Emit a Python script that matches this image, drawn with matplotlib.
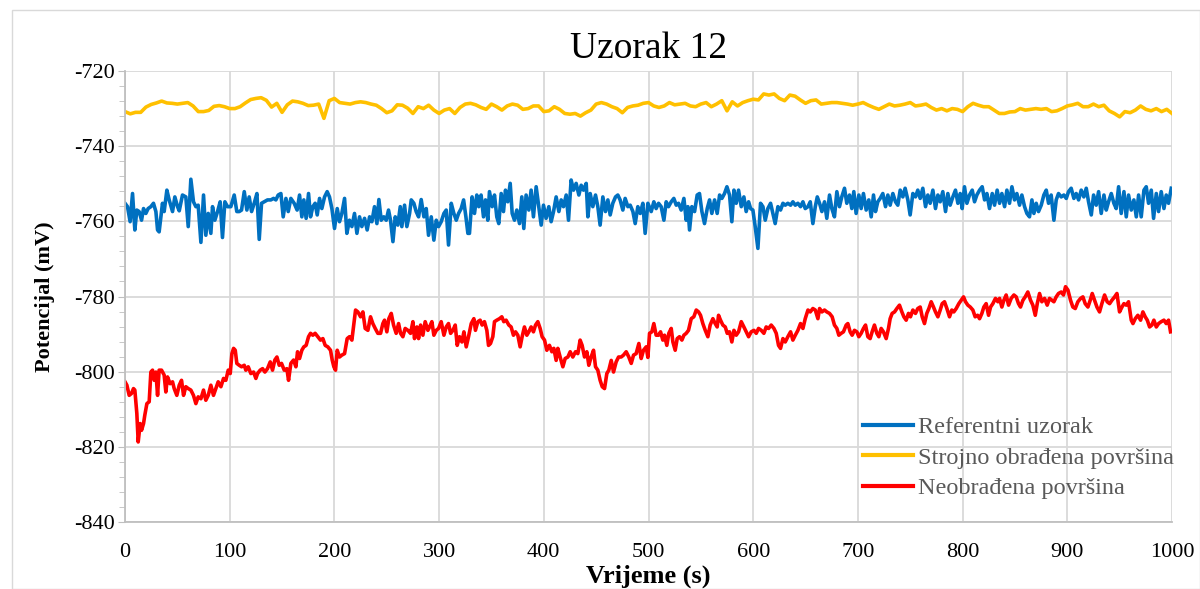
import numpy as np
import matplotlib
matplotlib.use("Agg")
import matplotlib.pyplot as plt
from matplotlib.ticker import MultipleLocator
from matplotlib.patches import Rectangle

plt.rcParams['font.family'] = ['Liberation Serif', 'DejaVu Serif']
plt.rcParams['axes.unicode_minus'] = False

# Strojno obradena povrsina - read every 5 s
yellow_t = list(range(0, 1001, 5))
yellow_v = [
    -730.8, -731.4, -731.0, -731.0, -729.6, -728.9, -728.5, -728.0, -728.5, -728.6,
    -728.8, -728.6, -728.4, -729.3, -730.8, -730.8, -730.5, -729.4, -729.2, -729.5,
    -730.0, -730.0, -729.5, -728.5, -727.6, -727.3, -727.1, -727.8, -729.6, -728.6,
    -731.0, -729.0, -728.0, -728.2, -728.6, -729.2, -729.1, -728.8, -732.6, -727.9,
    -727.3, -728.4, -728.6, -728.8, -728.4, -728.2, -728.4, -728.8, -729.1, -730.0,
    -731.1, -730.6, -729.0, -729.1, -729.9, -731.3, -729.5, -730.0, -729.1, -730.4,
    -731.3, -730.4, -730.0, -731.3, -729.7, -728.8, -728.6, -729.0, -729.7, -730.2,
    -728.8, -729.5, -730.4, -729.3, -728.8, -729.1, -730.2, -730.0, -729.3, -729.3,
    -730.8, -730.6, -729.5, -730.2, -731.3, -731.5, -731.3, -732.0, -731.1, -730.4,
    -728.8, -728.4, -728.8, -729.5, -730.0, -731.1, -729.7, -729.3, -729.1, -728.6,
    -728.4, -729.3, -729.7, -729.3, -728.4, -729.0, -728.8, -728.6, -729.3, -729.5,
    -728.8, -728.4, -729.5, -728.8, -727.9, -730.6, -728.2, -729.3, -728.4, -727.9,
    -727.5, -727.7, -726.1, -726.4, -726.1, -727.3, -727.9, -726.4, -726.7, -727.7,
    -728.6, -727.9, -727.7, -728.8, -728.6, -728.4, -728.4, -728.6, -728.8, -729.1,
    -728.8, -728.4, -729.1, -729.7, -730.2, -729.5, -728.8, -729.3, -729.1, -728.8,
    -728.4, -729.3, -729.1, -728.8, -729.7, -730.4, -730.0, -730.6, -730.0, -730.2,
    -730.8, -729.5, -728.6, -729.1, -729.5, -729.5, -730.4, -731.3, -731.3, -730.9,
    -730.8, -730.0, -730.4, -730.2, -730.0, -730.2, -730.0, -730.8, -730.6, -730.0,
    -729.3, -729.0, -728.6, -729.5, -729.5, -728.8, -729.5, -729.1, -730.6, -731.3,
    -732.2, -730.8, -731.1, -730.4, -729.3, -730.2, -730.6, -730.0, -730.8, -730.2,
    -731.3,
]

# Referentni uzorak
blue_t = [
    0, 2.4, 4.9, 7.2, 9.4, 11.3, 13.5, 15.8, 17.7, 19.9, 22.1, 24.7, 27.2, 29.5, 31.1,
    32.6, 35.8, 37.4, 40.0, 42.2, 45.4, 47.6, 50.2, 51.8, 54.9, 58.1, 60.4, 62.9, 65.4,
    67.7, 69.9, 72.5, 75.0, 77.2, 79.5, 82.0, 83.6, 85.8, 88.4, 90.9, 93.1, 95.4, 97.9,
    101.1, 104.3, 106.8, 109.1, 111.3, 113.9, 116.4, 118.6, 120.9, 123.4, 126.0, 128.2,
    130.4, 133.0, 136.1, 139.3, 141.9, 144.1, 146.3, 148.9, 151.1, 153.7, 155.9, 158.4,
    161.6, 164.4, 166.7, 168.9, 170.8, 173.0, 175.3, 177.2, 179.4, 181.6, 183.6, 185.8,
    188.0, 190.6, 193.1, 195.3, 197.6, 200.1, 202.7, 204.9, 207.1, 209.7, 211.9, 214.4,
    216.7, 219.2, 221.5, 224.0, 226.2, 228.8, 231.3, 233.6, 235.8, 238.3, 240.6, 242.5,
    244.7, 247.2, 249.5, 251.7, 253.6, 255.9, 258.1, 260.6, 262.9, 264.4, 267.0, 269.2,
    271.8, 273.4, 275.9, 278.1, 280.4, 282.9, 285.5, 287.7, 289.9, 292.5, 295.0, 297.3,
    299.5, 302.0, 304.6, 306.8, 309.0, 311.6, 314.1, 316.4, 318.6, 321.1, 323.4, 325.6,
    327.5, 329.0, 331.5, 333.8, 336.0, 337.9, 340.1, 342.4, 344.3, 346.5, 348.1, 350.7,
    352.9, 355.1, 357.0, 359.3, 361.5, 363.4, 365.6, 367.9, 369.8, 372.0, 374.2, 376.8,
    379.0, 380.9, 383.1, 385.7, 387.9, 390.1, 392.7, 395.2, 397.5, 399.7, 402.2, 404.8,
    407.0, 409.3, 411.8, 414.4, 416.6, 418.8, 421.4, 423.6, 426.1, 428.4, 430.9, 433.5,
    435.7, 437.9, 440.5, 442.1, 444.3, 446.8, 449.4, 451.6, 453.8, 456.4, 458.9, 461.2,
    463.4, 465.9, 468.5, 470.7, 472.9, 475.5, 477.7, 480.3, 482.5, 485.1, 487.3, 489.8,
    492.1, 494.6, 496.8, 499.4, 502.6, 505.1, 507.3, 509.6, 512.1, 514.7, 516.9, 519.1,
    521.7, 524.2, 526.5, 528.7, 531.2, 533.8, 536.0, 537.6, 539.2, 541.4, 544.0, 546.5,
    548.7, 551.0, 553.5, 556.1, 558.3, 560.5, 563.1, 565.6, 567.9, 570.1, 572.6, 574.9,
    577.4, 579.6, 581.6, 583.8, 586.0, 588.6, 591.1, 593.3, 595.6, 597.5, 599.7, 601.9,
    604.5, 607.0, 609.3, 611.5, 614.0, 616.6, 618.8, 621.0, 623.6, 626.1, 628.4, 630.6,
    633.1, 635.7, 637.9, 640.2, 642.7, 645.2, 647.5, 649.7, 652.3, 654.5, 657.0, 659.3,
    661.2, 663.4, 665.6, 668.1, 670.3, 672.9, 675.1, 677.6, 679.9, 682.4, 684.6, 687.2,
    689.4, 692.0, 694.2, 696.1, 698.3, 700.9, 703.1, 705.3, 707.9, 710.4, 712.7, 714.9,
    716.8, 719.0, 721.3, 723.8, 726.4, 728.6, 730.8, 733.4, 735.9, 738.1, 740.4, 742.9,
    745.1, 747.7, 749.9, 752.5, 755.0, 757.2, 759.5, 762.0, 764.6, 766.8, 769.0, 771.6,
    774.1, 776.4, 778.6, 781.1, 783.7, 785.9, 788.1, 790.7, 793.2, 795.5, 797.7, 799.6,
    801.8, 804.1, 806.6, 809.2, 811.4, 813.6, 816.2, 818.7, 821.0, 823.2, 825.7, 828.3,
    830.5, 833.0, 835.3, 837.5, 840.1, 842.3, 844.8, 847.1, 849.6, 851.8, 854.4, 856.6,
    859.2, 861.4, 863.9, 866.2, 868.1, 870.3, 872.5, 875.1, 877.6, 879.9, 882.1, 884.6,
    887.2, 889.4, 891.6, 894.2, 896.7, 899.0, 901.2, 903.7, 906.3, 908.5, 910.8, 913.3,
    915.8, 918.1, 920.3, 922.9, 925.1, 927.6, 929.9, 932.4, 935.0, 937.2, 939.4, 942.0,
    944.5, 946.7, 949.0, 951.5, 954.1, 956.3, 958.5, 961.1, 963.6, 965.9, 968.1, 970.6,
    973.2, 975.4, 977.6, 980.2, 982.4, 985.0, 987.2, 989.7, 992.3, 994.5, 996.7, 999.3,
]
blue_v = [
    -755.2, -756.1, -760.1, -752.6, -762.3, -757.0, -757.4, -759.7, -756.6, -757.9, -756.6, -756.1, -755.2, -757.4, -762.3,
    -762.8, -755.2, -757.4, -751.7, -754.3, -757.4, -753.5, -756.1, -757.2, -753.0, -753.5, -761.4, -748.8, -754.8,
    -756.1, -755.7, -765.6, -753.0, -763.7, -757.9, -763.2, -756.1, -759.7, -757.4, -754.8, -764.3, -754.8, -756.1,
    -756.1, -753.0, -757.4, -757.4, -757.0, -752.1, -757.0, -753.5, -757.4, -755.2, -752.6, -764.8,
    -755.2, -754.8, -754.3, -754.3, -753.9, -754.3, -753.0, -752.6, -758.8, -753.9, -757.4, -753.9,
    -755.2, -757.0, -753.0, -758.8, -754.3, -759.2, -752.6, -758.8, -756.1, -755.2, -758.3, -753.9,
    -756.6, -753.5, -752.1, -753.5, -756.6, -761.9, -756.6, -760.1, -757.9, -753.9, -763.2, -759.7,
    -761.4, -757.9, -763.2, -758.8, -761.4, -759.2, -762.3, -758.8, -760.1, -756.1, -760.6, -754.2,
    -759.7, -758.8, -759.7, -757.0, -759.7, -765.4, -758.8, -761.0, -756.1, -761.4, -755.7, -761.4,
    -757.9, -754.3, -755.2, -757.4, -758.8, -754.2, -758.8, -756.6, -763.7, -758.8, -765.0, -759.7,
    -761.4, -760.1, -757.9, -757.0, -766.3, -755.2, -757.9, -759.7, -757.9, -756.6, -754.3, -758.8,
    -763.2, -763.2, -753.5, -757.9, -753.0, -756.1, -753.0, -758.8, -754.3, -759.7, -752.1, -756.1,
    -753.0, -758.8, -760.6, -752.6, -757.4, -751.7, -754.8, -749.9, -757.9, -759.7, -757.0, -760.6,
    -753.5, -761.9, -753.0, -757.0, -751.7, -758.8, -750.8, -756.1, -761.0, -755.7, -759.2, -756.1,
    -760.1, -757.4, -753.5, -757.4, -754.3, -756.1, -753.0, -759.7, -749.0, -751.7, -749.9, -753.0,
    -750.4, -751.7, -749.9, -758.8, -752.6, -756.1, -753.0, -756.1, -761.0, -753.5, -757.4, -754.3,
    -758.3, -755.2, -753.5, -753.0, -754.3, -757.0, -753.9, -756.1, -755.7, -757.4, -760.6, -756.1,
    -757.9, -755.2, -763.2, -755.2, -757.4, -754.8, -756.6, -755.2, -756.1, -759.7, -754.8, -756.1,
    -754.8, -753.9, -755.7, -755.2, -757.0, -753.9, -759.7, -756.1, -762.3, -756.1, -757.4, -753.0,
    -752.6, -757.4, -760.6, -756.6, -754.3, -757.9, -754.3, -757.9, -753.0, -753.9, -752.6, -750.8,
    -753.0, -760.1, -751.7, -755.2, -751.7, -756.1, -753.5, -757.4, -754.8, -756.6, -757.0, -761.4,
    -767.2, -755.2, -756.1, -759.7, -756.6, -755.2, -757.9, -760.6, -756.1, -757.0, -755.2, -755.7,
    -755.2, -755.7, -754.8, -755.7, -755.2, -756.1, -754.8, -756.6, -756.1, -754.8, -760.6, -756.1,
    -753.5, -755.2, -757.4, -754.8, -759.2, -753.0, -756.6, -758.8, -752.1, -756.1, -753.5, -751.2,
    -755.2, -753.0, -756.6, -752.1, -757.9, -753.0, -756.6, -752.6, -757.0, -754.3, -758.8, -753.0,
    -757.4, -754.8, -753.9, -752.6, -756.1, -753.0, -755.7, -752.6, -754.8, -755.7, -751.7, -753.5,
    -751.2, -754.3, -758.3, -752.6, -753.5, -751.7, -753.9, -751.2, -756.1, -753.0, -755.2, -751.7,
    -756.6, -753.0, -754.8, -752.1, -757.4, -752.6, -755.7, -753.5, -751.7, -755.2, -752.6, -756.6,
    -750.8, -755.2, -753.0, -751.7, -754.8, -753.0, -751.7, -750.8, -754.3, -752.6, -756.6, -752.6,
    -755.7, -751.7, -755.2, -752.6, -756.1, -751.7, -755.2, -750.8, -754.3, -752.6, -755.7, -753.0,
    -756.1, -757.9, -758.8, -754.3, -757.9, -755.2, -757.4, -755.7, -753.0, -751.7, -755.2, -753.0,
    -759.7, -754.3, -752.6, -753.5, -753.0, -753.9, -752.1, -751.2, -753.9, -752.6, -754.3, -751.7,
    -753.5, -751.2, -754.8, -758.3, -753.0, -755.7, -752.1, -757.9, -753.0, -757.0, -754.8, -752.6,
    -755.2, -756.6, -750.8, -757.9, -752.1, -758.8, -753.0, -757.0, -754.3, -758.8, -753.0, -758.8,
    -751.7, -750.8, -755.2, -751.7, -759.2, -752.6, -757.4, -752.1, -756.6, -753.0, -755.2, -751.2,
]

# Neobradena povrsina
red_t = [
    0, 1.8, 4.0, 6.2, 8.1, 9.4, 11.3, 12.6, 14.5, 15.8, 17.7, 18.9, 20.9, 23.1, 24.7,
    26.3, 27.9, 29.5, 31.1, 32.6, 34.9, 37.4, 39.0, 40.6, 43.1, 45.4, 47.0, 49.5, 51.8,
    54.0, 55.9, 58.1, 60.4, 62.9, 65.4, 67.7, 69.9, 72.5, 75.0, 77.2, 79.5, 82.0, 84.5,
    86.8, 89.0, 91.6, 94.1, 96.3, 98.6, 100.5, 102.1, 103.7, 105.3, 106.8, 109.1, 111.3,
    113.9, 115.4, 117.7, 120.2, 122.8, 125.0, 126.6, 129.1, 131.4, 133.6, 136.1, 138.7,
    140.9, 143.1, 145.1, 147.3, 149.5, 152.1, 154.6, 156.2, 158.4, 161.0, 163.2, 164.8,
    166.7, 168.9, 170.8, 173.0, 175.3, 177.2, 179.4, 181.6, 184.2, 186.7, 189.0, 191.2,
    193.7, 196.3, 197.9, 199.5, 201.1, 202.7, 204.9, 207.1, 209.7, 212.2, 214.4, 216.7,
    218.6, 220.2, 222.4, 225.0, 227.2, 229.4, 232.0, 234.5, 236.7, 239.0, 241.5, 244.1,
    246.3, 247.9, 250.1, 252.0, 254.3, 256.5, 259.0, 261.3, 263.2, 265.4, 267.6, 270.2,
    272.7, 275.0, 276.5, 278.8, 280.4, 282.3, 284.5, 286.7, 289.3, 290.9, 293.1, 295.0,
    297.3, 299.5, 302.0, 304.6, 306.8, 309.0, 311.0, 313.2, 315.4, 317.3, 319.5, 321.8,
    323.7, 325.9, 328.1, 330.7, 333.2, 334.7, 337.0, 339.2, 341.1, 343.3, 345.6, 347.2,
    349.1, 351.3, 352.9, 355.1, 357.7, 359.9, 361.8, 364.0, 366.6, 368.8, 371.0, 373.0,
    375.2, 377.4, 379.3, 381.5, 383.8, 385.7, 387.9, 390.1, 392.1, 394.3, 396.5, 398.4,
    400.7, 402.9, 405.4, 407.7, 409.6, 411.8, 413.4, 415.6, 418.2, 420.4, 423.0, 425.2,
    427.7, 430.3, 432.5, 434.7, 436.6, 438.9, 441.1, 443.0, 445.2, 447.5, 449.4, 451.6,
    453.8, 455.8, 458.0, 460.2, 462.1, 464.4, 466.6, 469.1, 471.4, 473.9, 476.1, 478.7,
    481.2, 483.5, 485.7, 488.2, 490.8, 493.0, 495.2, 497.8, 499.4, 501.0, 503.2, 505.1,
    507.3, 509.6, 511.5, 513.7, 515.3, 517.5, 519.4, 521.7, 523.3, 525.5, 527.4, 529.6,
    531.9, 533.8, 536.0, 538.2, 540.8, 543.3, 545.6, 547.8, 549.7, 551.9, 554.2, 556.7,
    558.9, 561.5, 563.7, 565.6, 566.9, 568.8, 571.0, 573.3, 575.2, 577.4, 579.6, 581.6,
    583.8, 586.0, 588.6, 591.1, 593.3, 595.6, 598.1, 600.7, 602.9, 605.1, 607.7, 610.2,
    612.4, 614.7, 617.2, 619.8, 622.0, 624.2, 626.1, 628.4, 630.6, 633.1, 635.7, 637.9,
    640.2, 642.7, 645.2, 647.5, 649.7, 652.3, 654.5, 657.0, 659.3, 661.8, 663.4, 665.6,
    668.1, 670.3, 672.9, 675.4, 677.6, 679.9, 681.8, 684.0, 686.2, 688.8, 690.4, 692.6,
    694.5, 696.7, 699.0, 700.9, 703.1, 705.3, 707.3, 709.5, 711.7, 713.6, 715.8, 718.1,
    720.0, 722.2, 724.4, 727.0, 729.2, 730.8, 732.7, 735.0, 737.2, 739.7, 742.0, 743.9,
    746.1, 748.3, 750.2, 752.5, 755.0, 757.2, 759.5, 761.4, 763.6, 765.8, 767.8, 770.0,
    772.2, 774.1, 776.4, 778.6, 780.5, 782.7, 785.0, 787.5, 789.7, 791.6, 793.9, 796.4,
    798.6, 800.9, 802.8, 805.0, 807.3, 809.8, 812.0, 814.3, 816.2, 818.4, 820.3, 822.5,
    824.8, 826.7, 828.9, 831.4, 833.7, 835.3, 837.5, 839.4, 841.6, 843.9, 846.4, 849.0,
    851.2, 853.4, 855.3, 857.6, 859.8, 862.3, 864.9, 867.1, 869.4, 871.3, 873.5, 875.7,
    878.3, 880.8, 883.0, 885.3, 887.2, 889.4, 891.6, 894.2, 896.4, 898.3, 900.6, 903.1,
    905.3, 907.6, 910.1, 912.7, 914.9, 917.1, 919.7, 921.9, 923.8, 926.0, 928.3, 930.8,
    933.0, 935.6, 938.1, 940.4, 942.6, 945.2, 947.4, 949.9, 952.2, 954.1, 956.3, 958.5,
    961.1, 962.7, 964.9, 967.4, 970.0, 972.2, 974.4, 976.4, 978.6, 980.8, 982.7, 985.0,
    987.2, 989.7, 992.3, 994.5, 996.7, 998.6,
]
red_v = [
    -802.7, -803.6, -806.3, -805.8, -804.5, -804.9, -811.1, -818.7, -813.8, -815.6, -813.8, -811.6, -808.5, -808.0, -800.1,
    -799.6, -802.3, -800.1, -806.3, -799.6, -799.6, -800.9, -805.4, -801.4, -803.2, -802.7, -804.5, -806.3, -803.6,
    -802.3, -806.3, -804.0, -804.5, -804.9, -806.3, -808.5, -806.7, -807.2, -804.9, -807.6, -806.3, -803.6, -806.3,
    -804.5, -802.7, -804.0, -801.8, -802.3, -799.6, -800.5, -795.2, -793.8, -794.3, -797.8, -798.3, -798.7,
    -798.3, -799.6, -798.7, -800.5, -800.1, -801.8, -800.5, -799.6, -799.2, -800.1, -799.2, -797.4,
    -799.6, -796.9, -796.1, -798.3, -797.8, -799.6, -799.2, -802.3, -797.8, -796.9, -798.7, -794.7,
    -796.5, -794.3, -793.4, -793.0, -790.7, -789.8, -790.3, -789.8, -790.7, -791.6, -791.2, -793.0,
    -793.4, -794.3, -796.9, -798.7, -799.6, -794.3, -796.1, -795.6, -795.2, -791.2, -790.7, -791.6,
    -787.2, -783.6, -784.1, -785.4, -784.1, -788.5, -789.0, -785.4, -787.2, -788.5, -789.8, -789.8,
    -787.2, -786.3, -789.4, -785.9, -784.5, -787.6, -789.8, -787.2, -789.8, -790.7, -788.5, -789.0,
    -789.8, -786.7, -791.2, -788.1, -791.2, -787.6, -790.3, -786.7, -789.0, -788.1, -786.7, -790.3,
    -789.0, -788.5, -786.7, -790.3, -788.1, -787.2, -789.8, -789.0, -787.6, -793.0, -790.7, -792.1,
    -789.4, -793.4, -790.7, -787.2, -785.9, -789.0, -786.7, -786.3, -787.6, -786.7, -789.0, -793.0,
    -792.5, -790.7, -786.7, -786.3, -785.9, -785.4, -786.7, -786.3, -787.6, -788.1, -790.3, -789.4,
    -790.3, -793.4, -790.7, -788.1, -790.3, -789.4, -788.1, -789.4, -787.6, -786.7, -788.5, -790.7,
    -791.6, -794.3, -793.0, -794.7, -793.8, -797.0, -793.8, -796.1, -798.7, -796.5, -796.1, -794.7,
    -796.1, -794.7, -795.2, -791.6, -793.0, -796.1, -794.7, -798.3, -796.1, -794.3, -798.7, -799.6,
    -802.3, -804.0, -804.5, -800.5, -799.6, -797.0, -800.1, -797.4, -796.1, -796.1, -795.6, -794.7,
    -796.1, -797.8, -795.6, -795.2, -792.5, -796.5, -794.3, -793.4, -796.2, -789.8, -789.4, -787.2,
    -790.3, -790.3, -789.4, -791.6, -790.3, -793.0, -789.8, -788.5, -792.1, -794.3, -791.2, -790.7,
    -791.6, -790.3, -789.8, -789.0, -785.9, -785.4, -783.6, -784.1, -785.0, -787.2, -789.0, -790.7,
    -787.6, -785.9, -787.2, -788.1, -785.0, -786.3, -787.6, -788.1, -789.8, -789.4, -792.1, -789.0,
    -790.3, -789.4, -786.7, -788.1, -789.4, -790.7, -789.4, -789.0, -789.8, -788.5, -789.0, -789.8,
    -788.1, -788.5, -787.6, -788.5, -789.8, -793.0, -793.8, -791.2, -792.1, -790.7, -789.4, -791.6,
    -790.3, -789.0, -787.2, -788.5, -785.9, -783.6, -784.1, -783.2, -783.6, -785.9, -783.2, -784.1,
    -783.6, -784.1, -784.5, -785.4, -787.6, -788.5, -790.3, -789.8, -789.4, -787.6, -787.2, -789.4,
    -790.3, -789.0, -789.4, -790.7, -789.8, -788.5, -787.6, -790.7, -791.2, -789.4, -787.6, -789.8,
    -790.7, -788.5, -789.4, -791.2, -788.5, -785.9, -784.5, -784.1, -783.2, -782.3, -784.1, -785.4,
    -786.3, -784.5, -785.4, -783.6, -784.5, -783.2, -782.8, -785.4, -787.2, -784.5, -783.2, -781.4,
    -782.8, -784.1, -785.4, -783.6, -781.9, -781.4, -783.2, -785.4, -783.6, -784.1, -783.2, -781.9,
    -781.0, -780.1, -781.4, -782.3, -782.8, -783.6, -785.4, -785.0, -785.9, -784.5, -782.8, -781.9,
    -785.0, -782.8, -781.9, -780.5, -781.4, -780.5, -782.8, -781.0, -779.6, -782.3, -780.5, -779.6,
    -780.1, -781.9, -782.8, -781.0, -780.1, -778.8, -781.0, -782.3, -785.0, -781.9, -779.2, -781.4,
    -780.5, -782.3, -780.5, -781.0, -781.4, -780.1, -779.2, -778.8, -779.6, -777.4, -778.3, -781.0,
    -782.8, -783.2, -781.4, -780.5, -780.1, -781.9, -782.8, -781.0, -779.2, -781.0, -782.8, -784.1,
    -781.9, -779.6, -781.4, -781.9, -781.0, -780.1, -779.2, -784.1, -782.8, -781.9, -782.3, -781.4,
    -786.3, -787.2, -785.9, -785.0, -786.3, -784.1, -785.4, -786.3, -788.1, -787.6, -786.3, -788.1,
    -787.2, -786.7, -786.3, -787.2, -786.3, -789.4,
]

labels = ["Referentni uzorak", "Strojno obrađena površina", "Neobrađena površina"]
colors = ["#0070C0", "#FFC000", "#FF0000"]

fig = plt.figure(figsize=(12, 5.89), dpi=100)
ax = fig.add_axes([125 / 1200, 1 - 522 / 589, 1047 / 1200, 451 / 589])

ax.plot(blue_t, blue_v, color=colors[0], lw=2.6, label=labels[0])
ax.plot(yellow_t, yellow_v, color=colors[1], lw=2.6, label=labels[1])
ax.plot(red_t, red_v, color=colors[2], lw=2.6, label=labels[2])

ax.set_xlim(0, 1000)
ax.set_ylim(-840, -720)
ax.xaxis.set_major_locator(MultipleLocator(100))
ax.yaxis.set_major_locator(MultipleLocator(20))
ax.yaxis.set_minor_locator(MultipleLocator(4))
ax.grid(True, which='major', color='#D9D9D9', lw=1.3)
ax.set_axisbelow(True)
for side in ['top', 'right']:
    ax.spines[side].set_visible(False)
for side in ['left', 'bottom']:
    ax.spines[side].set_color('#BFBFBF')
    ax.spines[side].set_linewidth(1.3)
ax.tick_params(axis='x', length=0, labelsize=16, pad=15)
ax.tick_params(axis='y', which='major', length=5, color='#BFBFBF', labelsize=16, pad=2)
ax.tick_params(axis='y', which='minor', length=4, color='#BFBFBF')

ax.set_title("Uzorak 12", fontsize=27, pad=9)
ax.set_xlabel("Vrijeme (s)", fontsize=19, fontweight='bold', labelpad=2)
ax.set_ylabel("Potencijal (mV)", fontsize=16, fontweight='bold', labelpad=14)

leg = ax.legend(loc='upper left', bbox_to_anchor=(0.705, 0.235), frameon=False,
                fontsize=17.5, handlelength=2.06, handletextpad=0.2, labelspacing=0.35,
                borderpad=0, borderaxespad=0)
for txt in leg.get_texts():
    txt.set_color('#595959')
for line in leg.get_lines():
    line.set_linewidth(3)

fig.patches.append(Rectangle((12 / 1200, 0), 1 - 12 / 1200, 1 - 10 / 589,
                             transform=fig.transFigure, fill=False,
                             edgecolor='#D9D9D9', lw=1))

fig.savefig("out.png", dpi=100)
